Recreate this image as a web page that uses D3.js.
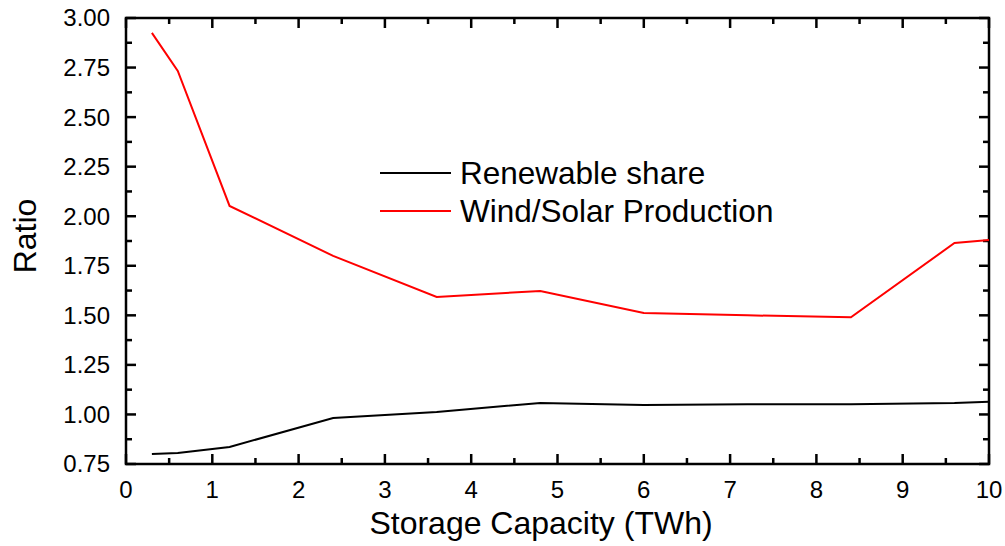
<!DOCTYPE html>
<html>
<head>
<meta charset="utf-8">
<style>
	body{ margin: 0; background: white; }
	text{ font-family: "Liberation Sans", Arial, sans-serif; fill: black; }
	.line{ fill: none; stroke-width: 2px; }
	.tk{ stroke: black; stroke-width: 2.5px; }
</style>
</head>
<body>
<script src="https://d3js.org/d3.v7.min.js"></script>
<script>

	var capacity = [0.3, 0.6, 1.2, 2.4, 3.6, 4.8, 6, 7.2, 8.4, 9.6, 10];
	var renewableShare = [0.80, 0.806, 0.836, 0.982, 1.012, 1.058, 1.048, 1.052, 1.052, 1.058, 1.064];
	var windSolar = [2.925, 2.733, 2.052, 1.80, 1.593, 1.623, 1.512, 1.50, 1.49, 1.865, 1.88];
	var xTicks = [0, 1, 2, 3, 4, 5, 6, 7, 8, 9, 10];
	var yTicks = [0.75, 1.00, 1.25, 1.50, 1.75, 2.00, 2.25, 2.50, 2.75, 3.00];

	var width = 1005, height = 546;
	var margin = {top: 18, right: 16, bottom: 82, left: 126};
	var w = width - margin.left - margin.right,
		h = height - margin.top - margin.bottom;

	var x = d3.scaleLinear().domain([0, 10]).range([0, w]);
	var y = d3.scaleLinear().domain([0.75, 3.0]).range([h, 0]);

	var svg = d3.select("body").append("svg")
		.attr("width", width)
		.attr("height", height);

	var g = svg.append("g")
		.attr("transform", "translate(" + margin.left + "," + margin.top + ")");

	var xMinor = d3.range(0.5, 10, 1);
	var yMinor = d3.range(0.875, 3, 0.25);

	// ticks pointing inward on all four sides
	function xTickMarks(vals, len) {
		[h, 0].forEach(function(base) {
			var dir = base === h ? -1 : 1;
			g.selectAll(null).data(vals).enter().append("line")
				.attr("class", "tk")
				.attr("x1", function(d) { return x(d); })
				.attr("x2", function(d) { return x(d); })
				.attr("y1", base)
				.attr("y2", base + dir * len);
		});
	}
	function yTickMarks(vals, len) {
		[0, w].forEach(function(base) {
			var dir = base === 0 ? 1 : -1;
			g.selectAll(null).data(vals).enter().append("line")
				.attr("class", "tk")
				.attr("y1", function(d) { return y(d); })
				.attr("y2", function(d) { return y(d); })
				.attr("x1", base)
				.attr("x2", base + dir * len);
		});
	}
	xTickMarks(xTicks, 10);
	xTickMarks(xMinor, 6);
	yTickMarks(yTicks, 10);
	yTickMarks(yMinor, 6);

	g.selectAll(".xlab").data(xTicks).enter().append("text")
		.attr("class", "xlab")
		.attr("x", function(d) { return x(d); })
		.attr("y", h + 34)
		.attr("text-anchor", "middle")
		.attr("font-size", 24)
		.text(d3.format("d"));

	g.selectAll(".ylab").data(yTicks).enter().append("text")
		.attr("class", "ylab")
		.attr("x", -16)
		.attr("y", function(d) { return y(d); })
		.attr("dy", "0.35em")
		.attr("text-anchor", "end")
		.attr("font-size", 24)
		.text(d3.format(".2f"));

	g.append("rect")
		.attr("width", w)
		.attr("height", h)
		.attr("fill", "none")
		.attr("stroke", "black")
		.attr("stroke-width", 2.5);

	var line = d3.line()
		.x(function(d) { return x(d[0]); })
		.y(function(d) { return y(d[1]); });

	g.append("path")
		.datum(d3.zip(capacity, renewableShare))
		.attr("class", "line")
		.attr("stroke", "black")
		.attr("d", line);

	g.append("path")
		.datum(d3.zip(capacity, windSolar))
		.attr("class", "line")
		.attr("stroke", "#ff0000")
		.attr("d", line);

	// legend
	var legend = [["Renewable share", "black"], ["Wind/Solar Production", "#ff0000"]];
	var lg = svg.append("g").attr("transform", "translate(380,173)");
	legend.forEach(function(d, i) {
		lg.append("line")
			.attr("x1", 0).attr("x2", 71)
			.attr("y1", i * 38).attr("y2", i * 38)
			.attr("stroke", d[1]).attr("stroke-width", 2);
		lg.append("text")
			.attr("x", 80).attr("y", i * 38 + 11)
			.attr("font-size", 31.5)
			.text(d[0]);
	});

	svg.append("text")
		.attr("x", 541)
		.attr("y", 534)
		.attr("text-anchor", "middle")
		.attr("font-size", 32)
		.text("Storage Capacity (TWh)");

	svg.append("text")
		.attr("transform", "translate(36,236) rotate(-90)")
		.attr("text-anchor", "middle")
		.attr("font-size", 32)
		.text("Ratio");

</script>
</body>
</html>
